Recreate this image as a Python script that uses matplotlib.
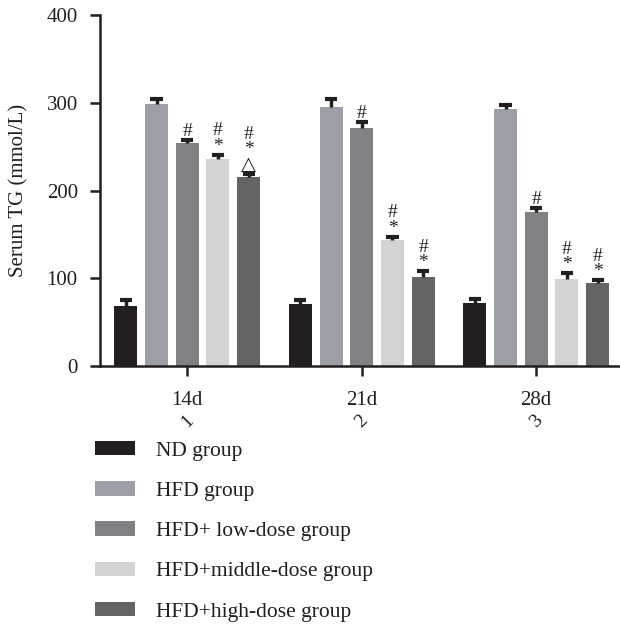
import matplotlib
matplotlib.use("Agg")
import matplotlib.pyplot as plt
from matplotlib.patches import Patch
import numpy as np

plt.rcParams['font.family'] = ['Liberation Serif', 'DejaVu Serif']

days = ["14d", "21d", "28d"]
sub_labels = ["1", "2", "3"]
groups = ["ND group", "HFD group", "HFD+ low-dose group", "HFD+middle-dose group", "HFD+high-dose group"]
colors = ["#231f20", "#9c9fa5", "#808184", "#d2d3d5", "#636466"]

nd = [68, 70.5, 72]
hfd = [299, 295.5, 292.5]
low = [254, 271.5, 175.5]
mid = [236, 143.5, 99]
high = [215, 101.5, 95]

nd_err = [7, 4.5, 4.5]
hfd_err = [5, 9, 5.5]
low_err = [4, 7, 4.5]
mid_err = [5, 4, 7]
high_err = [4, 6.5, 3]

marks = [
    ["", "", "#", "#\n*", "#\n*\n\u25b3"],
    ["", "", "#", "#\n*", "#\n*"],
    ["", "", "#", "#\n*", "#\n*"],
]

values = [nd, hfd, low, mid, high]
errors = [nd_err, hfd_err, low_err, mid_err, high_err]

fig = plt.figure(figsize=(6.2, 6.27), dpi=100)
ax = fig.add_axes([100/620, 261/627, 520/620, 351/627])

x = np.arange(len(days))
pitch = 0.176
width = 0.132
for i in range(5):
    xs = x + (i - 2) * pitch
    ax.bar(xs, values[i], width=width, color=colors[i], zorder=2)
    tops = np.array(values[i]) + np.array(errors[i])
    ax.vlines(xs, values[i], tops, color="#231f20", lw=2.5, zorder=3)
    ax.hlines(tops, xs - 0.035, xs + 0.035, color="#231f20", lw=3, zorder=3)
    for j in range(len(days)):
        txt = marks[j][i]
        if txt:
            ax.annotate(txt, (xs[j], tops[j]), xytext=(0, 0), textcoords="offset pixels",
                        ha="center", va="bottom", fontsize=14, linespacing=0.88,
                        color="#231f20", family=['Liberation Serif', 'DejaVu Sans'])

ax.set_xlim(x[0] - 0.5, x[-1] + 0.48)
ax.set_ylim(0, 400)
ax.set_yticks([0, 100, 200, 300, 400])
ax.set_xticks(x)
ax.set_xticklabels(days)
ax.tick_params(axis="both", labelsize=15, width=1.8, length=7, color="#231f20", labelcolor="#231f20")
ax.tick_params(axis="x", pad=11)
ax.tick_params(axis="y", pad=9)
for s in ["top", "right"]:
    ax.spines[s].set_visible(False)
for s in ["left", "bottom"]:
    ax.spines[s].set_linewidth(1.8)
    ax.spines[s].set_color("#231f20")
ax.set_ylabel("Serum TG (mmol/L)", fontsize=15, color="#231f20", labelpad=13)

for j, lab in enumerate(sub_labels):
    ax.annotate(lab, (x[j], 0), xycoords=("data", "axes fraction"), xytext=(0, -40),
                textcoords="offset points", ha="center", va="center", rotation=45,
                fontsize=14, color="#231f20")

handles = [Patch(facecolor=c, edgecolor="none") for c in colors]
fig.legend(handles, groups, loc="upper left", bbox_to_anchor=(95/620, 1 - 441/627),
           frameon=False, fontsize=15.5, handlelength=1.85, handleheight=0.65,
           labelspacing=0.95, handletextpad=1.0, borderaxespad=0, borderpad=0,
           labelcolor="#231f20")

fig.savefig("out.png", dpi=100)
